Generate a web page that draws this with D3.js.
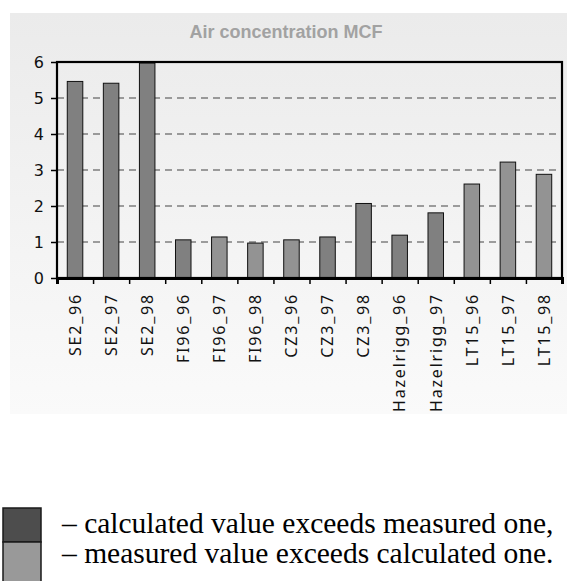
<!DOCTYPE html>
<meta charset="utf-8">
<script src="https://d3js.org/d3.v7.min.js"></script>
<style>
  body { margin: 0; background: #fff; }
</style>
<div id="chart"></div>
<script>

// data
var categories = ["SE2_96","SE2_97","SE2_98","FI96_96","FI96_97","FI96_98","CZ3_96","CZ3_97","CZ3_98","Hazelrigg_96","Hazelrigg_97","LT15_96","LT15_97","LT15_98"];
var values = [5.46, 5.41, 5.97, 1.06, 1.14, 0.97, 1.06, 1.14, 2.07, 1.19, 1.81, 2.61, 3.22, 2.88];
// "calc" = calculated exceeds measured (darker), "meas" = measured exceeds calculated (lighter)
var kinds = ["calc","calc","calc","calc","meas","meas","meas","calc","calc","calc","calc","meas","meas","meas"];
var yTicks = [0, 1, 2, 3, 4, 5, 6];
var title = "Air concentration MCF";
var legendLabels = ["\u2013 calculated value exceeds measured one,", "\u2013 measured value exceeds calculated one."];

var data = categories.map(function(c, i) { return {cat: c, v: values[i], kind: kinds[i]}; });

var W = 567, H = 581;
var plot = {left: 57, top: 62, right: 562, bottom: 278};

var svg = d3.select("#chart")
  .append("svg")
    .attr("width", W)
    .attr("height", H);

// panel background gradient
var grad = svg.append("defs").append("linearGradient")
    .attr("id", "panelGrad")
    .attr("x1", 0).attr("y1", 0).attr("x2", 0).attr("y2", 1);
grad.append("stop").attr("offset", "0%").attr("stop-color", "#ebebeb");
grad.append("stop").attr("offset", "100%").attr("stop-color", "#fafafa");

svg.append("rect")
  .attr("x", 10).attr("y", 13)
  .attr("width", W - 10).attr("height", 401)
  .attr("fill", "url(#panelGrad)");

// title
svg.append("text")
  .attr("x", 286)
  .attr("y", 38)
  .attr("text-anchor", "middle")
  .style("font-family", "'Liberation Sans', Arial, sans-serif")
  .style("font-weight", "bold")
  .style("font-size", "18px")
  .style("fill", "#a2a2a2")
  .text(title);

// scales
var x = d3.scaleBand()
  .domain(categories)
  .range([plot.left, plot.right])
  .paddingInner(0.57)
  .paddingOuter(0.285);

var xEdges = d3.scaleLinear()
  .domain([0, categories.length])
  .range([plot.left, plot.right]);

var y = d3.scaleLinear()
  .domain([0, 6])
  .range([plot.bottom, plot.top]);

var color = {calc: "#808080", meas: "#939393"};

// gridlines
svg.append("g")
  .selectAll("line")
  .data(yTicks.filter(function(d) { return d > 0 && d < 6; }))
  .enter()
  .append("line")
    .attr("x1", plot.left).attr("x2", plot.right)
    .attr("y1", function(d) { return y(d); })
    .attr("y2", function(d) { return y(d); })
    .style("stroke", "#444")
    .style("stroke-width", 1.2)
    .style("stroke-dasharray", "7,5");

// bars
svg.append("g")
  .selectAll("rect")
  .data(data)
  .enter()
  .append("rect")
    .attr("x", function(d) { return x(d.cat); })
    .attr("y", function(d) { return y(d.v); })
    .attr("width", x.bandwidth())
    .attr("height", function(d) { return y(0) - y(d.v); })
    .style("fill", function(d) { return color[d.kind]; })
    .style("stroke", "#111")
    .style("stroke-width", 1);

// plot frame
svg.append("rect")
  .attr("x", plot.left).attr("y", plot.top)
  .attr("width", plot.right - plot.left)
  .attr("height", plot.bottom - plot.top)
  .style("fill", "none")
  .style("stroke", "#000")
  .style("stroke-width", 2.2);

// y axis
var yAxis = svg.append("g")
  .attr("transform", "translate(" + plot.left + ",0)")
  .call(d3.axisLeft(y).tickValues(yTicks).tickSize(6).tickPadding(7).tickFormat(d3.format("d")));
yAxis.select(".domain").remove();
yAxis.selectAll("line").style("stroke", "#000").style("stroke-width", 1.5);
yAxis.selectAll("text")
  .style("font-family", "'DejaVu Sans', Verdana, sans-serif")
  .style("font-size", "16px")
  .style("fill", "#111");

// x axis tick marks at category edges
var xTicks = svg.append("g")
  .attr("transform", "translate(0," + plot.bottom + ")")
  .call(d3.axisBottom(xEdges).tickValues(d3.range(categories.length + 1)).tickSize(6).tickFormat(""));
xTicks.select(".domain").style("stroke", "#000").style("stroke-width", 3);
xTicks.selectAll("line").style("stroke", "#000").style("stroke-width", 1.5);

// x labels, rotated
svg.append("g")
  .selectAll("text")
  .data(categories)
  .enter()
  .append("text")
    .attr("transform", function(d) {
      return "translate(" + (x(d) + x.bandwidth() / 2) + ",293) rotate(-90)";
    })
    .attr("dy", "0.36em")
    .attr("text-anchor", "end")
    .style("font-family", "'Noto Sans', 'Open Sans', sans-serif")
    .style("font-size", "16px")
    .style("letter-spacing", "1.8px")
    .style("fill", "#111")
    .text(function(d) { return d; });

// legend below the chart
var legend = svg.append("g");
legend.append("rect")
  .attr("x", 3).attr("y", 508).attr("width", 38).attr("height", 34)
  .style("fill", "#4d4d4d").style("stroke", "#1a1a1a").style("stroke-width", 1.5);
legend.append("rect")
  .attr("x", 3).attr("y", 542).attr("width", 38).attr("height", 42)
  .style("fill", "#999").style("stroke", "#1a1a1a").style("stroke-width", 1.5);
legend.selectAll("text")
  .data(legendLabels)
  .enter()
  .append("text")
    .attr("x", 62)
    .attr("y", function(d, i) { return 533 + i * 30; })
    .style("font-family", "'Liberation Serif', 'Times New Roman', serif")
    .style("font-size", "29.5px")
    .style("fill", "#000")
    .text(function(d) { return d; });

</script>
